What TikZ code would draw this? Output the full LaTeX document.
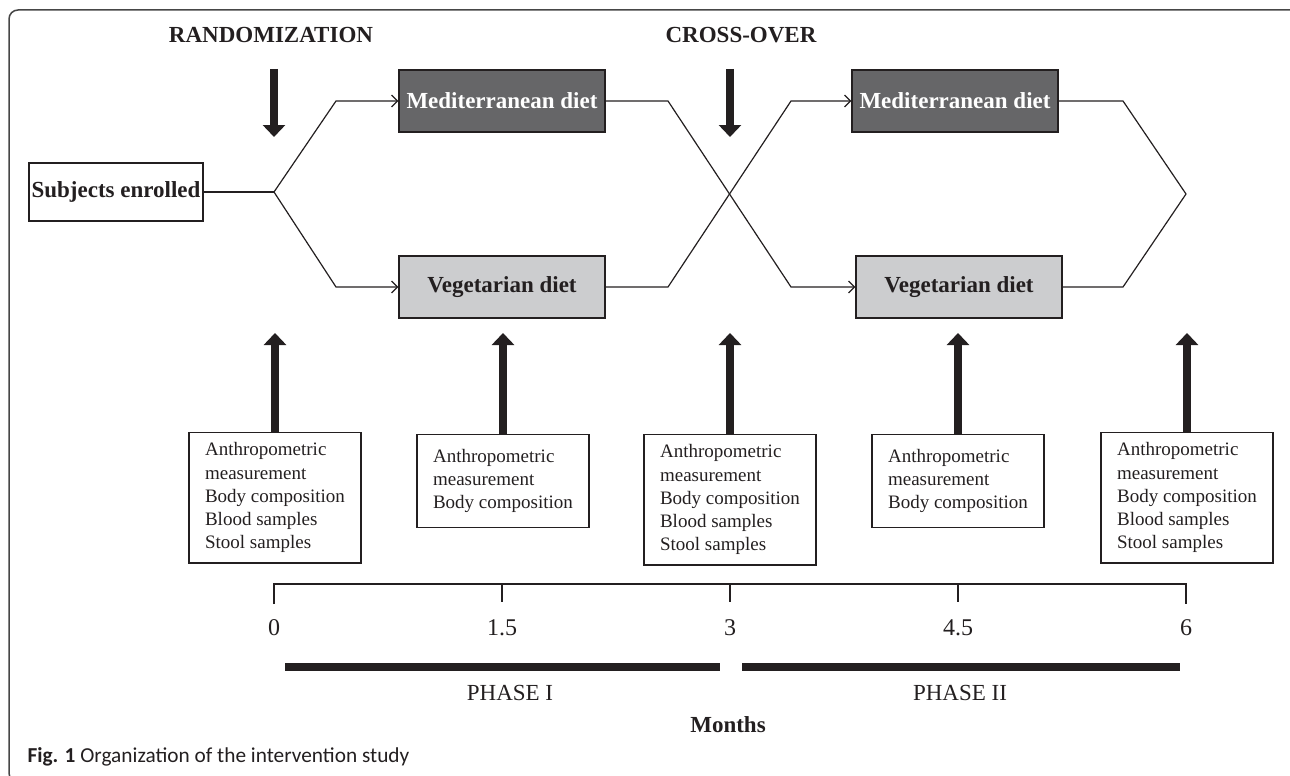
\documentclass[tikz,border=0pt]{standalone}
\usepackage{fontspec}
\setmainfont{Liberation Serif}
\newfontfamily\capfont{Carlito}
\usepackage{tikz}
\usetikzlibrary{arrows.meta}
\definecolor{ink}{RGB}{35,31,32}
\definecolor{meddark}{RGB}{102,102,104}
\definecolor{veglight}{RGB}{204,205,207}
\definecolor{framegray}{RGB}{70,70,70}
\tikzset{thinline/.style={draw=ink, line width=1.2pt},
	head/.style={text=ink, font=\fontsize{23}{27}\selectfont\bfseries},
	num/.style={text=ink, font=\fontsize{23}{27}\selectfont},
	start/.style={draw=ink, line width=1.2pt, minimum width=174pt, minimum height=58pt,
		inner sep=0pt, text=ink, font=\fontsize{23}{27}\selectfont\bfseries},
	diet/.style={draw=ink, line width=1.2pt, minimum width=206pt, minimum height=62pt,
		inner sep=0pt, font=\fontsize{23}{27}\selectfont\bfseries},
	med/.style={diet, fill=meddark, text=white},
	veg/.style={diet, fill=veglight, text=ink},
	check/.style={draw=ink, line width=1.2pt, anchor=north, align=left, minimum width=172pt,
		inner xsep=14pt, inner ysep=10pt, text=ink, font=\fontsize{19}{23.3}\selectfont},
	bigarrow/.style={draw=ink, line width=8pt, -{Triangle[width=22pt,length=12pt]}}}

\begin{document}
\begin{tikzpicture}[x=1pt, y=-1pt, >={Straight Barb[length=6pt,width=12pt]}]
		\useasboundingbox (0,0) rectangle (1290,776);
		\draw[framegray, line width=1.5pt, rounded corners=9pt] (9,10) rectangle (1300,782);
		% headings
		\node[head] (rand) at (271,35) {RANDOMIZATION};
		\node[head] (cross) at (741,35) {CROSS-OVER};
		% groups
		\node[start] (s) at (116,192) {Subjects enrolled};
		\node[med] (m1) at (502,101) {Mediterranean diet};
		\node[veg] (v1) at (502,287) {Vegetarian diet};
		\node[med] (m2) at (955,101) {Mediterranean diet};
		\node[veg] (v2) at (959,287) {Vegetarian diet};
		\coordinate (r) at (274,192);
		\coordinate (r1) at (336,101);
		\coordinate (r2) at (336,287);
		\coordinate (x1) at (668,101);
		\coordinate (x2) at (791,287);
		\coordinate (x3) at (668,287);
		\coordinate (x4) at (791,101);
		\coordinate (y1) at (1123,101);
		\coordinate (y0) at (1186,194);
		\coordinate (y2) at (1123,287);
		\draw[thinline] (s) -- (r);
		\draw[thinline,->] (r) -- (r1) -- (m1);
		\draw[thinline,->] (r) -- (r2) -- (v1);
		\draw[thinline,->] (m1) -- (x1) -- (x2) -- (v2);
		\draw[thinline,->] (v1) -- (x3) -- (x4) -- (m2);
		\draw[thinline] (m2) -- (y1) -- (y0) -- (y2) -- (v2);
		% randomization and cross-over
		\coordinate (rt) at (274,69);
		\coordinate (rb) at (274,137);
		\coordinate (ct) at (730,69);
		\coordinate (cb) at (730,137);
		\draw[bigarrow] (rt) -- (rb);
		\draw[bigarrow] (ct) -- (cb);
		% measurements
		\node[check] (a) at (275,432) {Anthropometric\\measurement\\Body composition\\Blood samples\\Stool samples};
		\node[check, minimum height=93pt] (b) at (503,434) {Anthropometric\\measurement\\Body composition};
		\node[check] (c) at (730,434) {Anthropometric\\measurement\\Body composition\\Blood samples\\Stool samples};
		\node[check, minimum height=93pt] (d) at (958,434) {Anthropometric\\measurement\\Body composition};
		\node[check] (e) at (1187,432) {Anthropometric\\measurement\\Body composition\\Blood samples\\Stool samples};
		\coordinate (up) at (0,333);
		\foreach \n in {a,b,c,d,e}
		\draw[bigarrow] (\n.north) -- (\n.north |- up);
		% time line
		\coordinate (t0) at (274,584);
		\coordinate (t6) at (1186,584);
		\draw[thinline] (t0) ++(0,20) -- (t0) -- (t6) -- ++(0,20);
		\foreach \x in {502,730,958}
		\draw[thinline] (\x,584) -- (\x,602);
		\foreach \x/\t [count=\i] in {274/0,502/1.5,730/3,958/4.5,1186/6}
		\node[num, font=\fontsize{24}{28}\selectfont] (n\i) at (\x,628) {\t};
		\draw[ink, line width=8pt] (285,667) -- (720,667);
		\draw[ink, line width=8pt] (742,667) -- (1180,667);
		\node[num] (p1) at (510,693) {PHASE I};
		\node[num] (p2) at (960,693) {PHASE II};
		\node[head] (mo) at (728,725) {Months};
		\node[anchor=west, text=ink, font=\capfont\fontsize{21.3}{25}\selectfont] (cap) at (24,757) {\textbf{Fig. 1} Organization of the intervention study};
		\end{tikzpicture}
\end{document}
